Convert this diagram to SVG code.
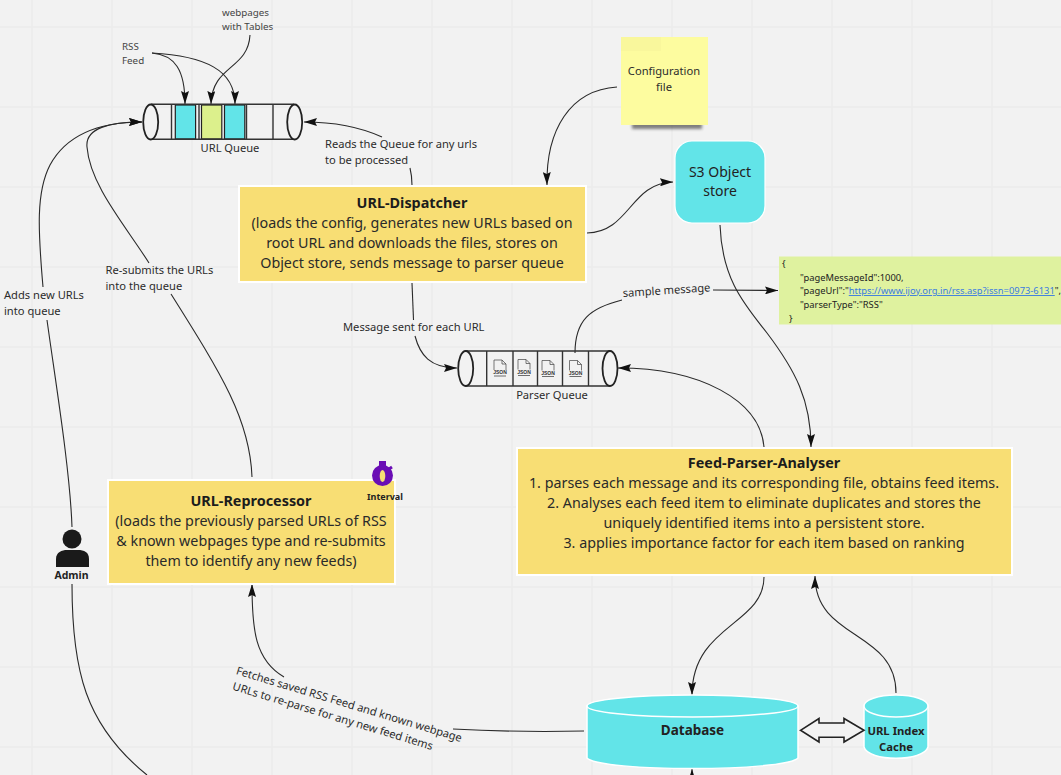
<svg xmlns="http://www.w3.org/2000/svg" width="1061" height="775" viewBox="0 0 1061 775">
<defs>
<marker id="ah" markerUnits="userSpaceOnUse" markerWidth="14" markerHeight="8" refX="13" refY="4" orient="auto"><path d="M0 0L13 4L0 8L2 4Z" fill="#111"/></marker>
<filter id="blur" x="-20%" y="-100%" width="140%" height="300%"><feGaussianBlur stdDeviation="1.800"/></filter>
<g id="json"><path d="M-6 -8H2L6 -4V2M-6 -8V2M2 -8V-4H6" fill="none" stroke="#444" stroke-width=".7"/><text x="0" y="6" text-anchor="middle" style="font:bold 5px 'Liberation Sans',sans-serif;fill:#333">JSON</text><path d="M-6 8H6" stroke="#333" stroke-width=".7"/></g>
</defs>
<style>
text{font-family:"Noto Sans","Open Sans",sans-serif;fill:#222}
.grid path{stroke:#ebebeb;stroke-width:1.5;fill:none}
.c path{fill:none;stroke:#2a2a2a;stroke-width:1.1}
.a{marker-end:url(#ah)}
.y{fill:#f8de74;stroke:#fff;stroke-width:2}
.t{font-size:14.3px;text-anchor:middle;fill:#2a2a2a}
.b{font-weight:700;fill:#1c1c1c;font-size:14.4px}
.s{font-size:11.15px;fill:#2c2c2c}
.s2{font-size:9.8px;fill:#444}
.q{fill:none;stroke:#333;stroke-width:1.4}
.cy{fill:#62e4e8;stroke:#fff;stroke-width:1.5}
</style>
<rect width="1061" height="775" fill="#f2f2f2"/>
<g class="grid"><path d="M32 0V775M112 0V775M192 0V775M272 0V775M352 0V775M432 0V775M512 0V775M592 0V775M672 0V775M752 0V775M832 0V775M912 0V775M992 0V775M0 27H1061M0 107H1061M0 187H1061M0 267H1061M0 347H1061M0 427H1061M0 507H1061M0 587H1061M0 667H1061M0 747H1061"/></g>

<g id="connectors" class="c">
<path class="a" d="M152 53C175 55 185 70 185 104"/>
<path class="a" d="M152 53C205 56 235 70 235 104"/>
<path class="a" d="M250 35C248 70 212 65 211 104"/>
<path d="M412 185C412 178 411 172 410 168"/>
<path class="a" d="M382 137C360 127 335 122 304 122"/>
<path class="a" d="M617 87C570 90 546 130 547 185"/>
<path class="a" d="M587 233C630 232 630 183 673 182"/>
<path class="a" d="M720 225C722 280 745 305 767 333C795 370 811 400 811 447"/>
<path d="M412 283L413.500 320"/>
<path class="a" d="M415 336C420 355 430 368 457 368"/>
<path d="M575 353C575 320 590 308 622 300"/>
<path class="a" d="M713 290L778 290.500"/>
<path class="a" d="M764 447C760 400 700 368 618 368"/>
<path class="a" d="M764 577C764 625 692 625 692 695"/>
<path class="a" d="M896 693C896 630 815 640 815 576"/>
<path class="a" d="M692 775L692 769"/>
<path d="M584 731C540 732 490 731 453 729"/>
<path class="a" d="M284 677C255 660 252 630 252 584"/>
<path d="M72 527C70 470 56 385 47 320"/>
<path class="a" d="M43 287C38 230 36 192 50 165C68 132 105 122 142 122"/>
<path d="M72 584C72 670 85 725 147 775"/>
<path d="M252 477C250 420 222 375 171 294"/>
<path class="a" d="M149 263C125 225 90 185 87 147C85 128 110 122 142 122"/>
</g>

<g id="url-queue">
<rect x="175.300" y="105" width="20.300" height="34" fill="#62e4e8" stroke="#222" stroke-width="1.200"/>
<rect x="201.500" y="105" width="20.300" height="34" fill="#dcf08c" stroke="#222" stroke-width="1.200"/>
<rect x="224.500" y="105" width="20.300" height="34" fill="#62e4e8" stroke="#222" stroke-width="1.200"/>
<path class="q" d="M151 104.300H294M151 139.300H294M171.500 105V139M199 105V139M246.500 105V139M273 105V139"/>
<ellipse cx="150.700" cy="122" rx="7.500" ry="17.500" fill="#f2f2f2" stroke="#222" stroke-width="1.800"/>
<ellipse cx="294.700" cy="122" rx="7.500" ry="17.500" fill="#f2f2f2" stroke="#222" stroke-width="1.800"/>
<text class="s" x="230" y="152" text-anchor="middle">URL Queue</text>
</g>
<g id="rss-feed-label"><text class="s2" x="122" y="50">RSS</text><text class="s2" x="122" y="64">Feed</text></g>
<g id="webpages-label"><text class="s2" x="222" y="16">webpages</text><text class="s2" x="222" y="30">with Tables</text></g>

<g id="config-file"><rect x="632" y="122" width="70" height="7" fill="#333" opacity=".6" filter="url(#blur)"/><rect x="621" y="37" width="87" height="88" fill="#fdfc9f"/><rect x="621" y="37" width="40" height="14" fill="#f9f79c"/>
<text class="s" x="664" y="75" text-anchor="middle">Configuration</text><text class="s" x="664" y="91" text-anchor="middle">file</text></g>

<g id="s3-store"><rect x="675" y="141" width="90" height="82" rx="17" fill="#62e4e8" stroke="#fff" stroke-width="1.200"/>
<text x="720" y="177" text-anchor="middle" font-size="14">S3 Object</text><text x="720" y="196" text-anchor="middle" font-size="14">store</text></g>

<g id="url-dispatcher"><rect class="y" x="239" y="186" width="347" height="96"/>
<text class="t b" x="412" y="208">URL-Dispatcher</text>
<text class="t" x="412" y="228">(loads the config, generates new URLs based on</text>
<text class="t" x="412" y="248">root URL and downloads the files, stores on</text>
<text class="t" x="412" y="268">Object store, sends message to parser queue</text></g>

<g id="labels">
<text class="s" x="325" y="148">Reads the Queue for any urls</text>
<text class="s" x="325" y="164">to be processed</text>
<text class="s" x="105.500" y="274">Re-submits the URLs</text>
<text class="s" x="105.500" y="290">into the queue</text>
<text class="s" x="4" y="299">Adds new URLs</text>
<text class="s" x="4" y="315">into queue</text>
<text class="s" x="343" y="331">Message sent for each URL</text>
<text class="s" x="623" y="297" transform="rotate(-3.700 623 297)">sample message</text>
<text class="s" transform="translate(235.500 674) rotate(16.800)"><tspan x="0" y="0">Fetches saved RSS Feed and known webpage</tspan><tspan x="1" y="16">URLs to re-parse for any new feed items</tspan></text>
</g>

<g id="sample-message"><rect x="779" y="256.500" width="282" height="68" fill="#dff29f"/>
<g font-size="9.350" fill="#333"><text x="782" y="267">{</text><text x="800" y="280.500">"pageMessageId":1000,</text>
<text x="800" y="294">"pageUrl":"<tspan fill="#3a7be0" text-decoration="underline">https://www.ijoy.org.in/rss.asp?issn=0973-6131</tspan>",</text>
<text x="800" y="308">"parserType":"RSS"</text><text x="789" y="322">}</text></g></g>

<g id="parser-queue">
<path class="q" d="M466 351H610M466 386H610M486.700 351V386M513 351V386M537.500 351V386M562.500 351V386M588.500 351V386"/>
<ellipse cx="465.700" cy="368.500" rx="7.500" ry="17.500" fill="#f2f2f2" stroke="#222" stroke-width="1.800"/>
<ellipse cx="610" cy="368.500" rx="7.500" ry="17.500" fill="#f2f2f2" stroke="#222" stroke-width="1.800"/>
<use href="#json" x="500" y="368"/><use href="#json" x="524" y="367.500"/><use href="#json" x="548" y="368.500"/><use href="#json" x="575.500" y="368.500"/>
<text class="s" x="552" y="398.500" text-anchor="middle">Parser Queue</text>
</g>

<g id="feed-parser"><rect class="y" x="517" y="448" width="495" height="127"/>
<text class="t b" x="764" y="468">Feed-Parser-Analyser</text>
<text class="t" x="764" y="488">1. parses each message and its corresponding file, obtains feed items.</text>
<text class="t" x="764" y="508">2. Analyses each feed item to eliminate duplicates and stores the</text>
<text class="t" x="764" y="528">uniquely identified items into a persistent store.</text>
<text class="t" x="764" y="548">3. applies importance factor for each item based on ranking</text></g>

<g id="url-reprocessor"><rect class="y" x="108" y="480" width="287" height="104"/>
<text class="t b" x="251" y="506">URL-Reprocessor</text>
<text class="t" x="251" y="526">(loads the previously parsed URLs of RSS</text>
<text class="t" x="251" y="546">&amp; known webpages type and re-submits</text>
<text class="t" x="251" y="566">them to identify any new feeds)</text></g>

<g id="interval"><circle cx="382.500" cy="475.500" r="10.500" fill="#6a0db5"/><rect x="379" y="461" width="7" height="5" fill="#6a0db5"/><ellipse cx="382.500" cy="476" rx="2.800" ry="6" fill="#f8de74"/><path d="M389 469l3 -2" stroke="#6a0db5" stroke-width="3"/>
<text x="385" y="500" text-anchor="middle" font-size="9" font-weight="700" fill="#333">Interval</text></g>

<g id="admin"><circle cx="72" cy="539" r="9.500" fill="#1a1a1a"/><path d="M56 567V559C56 552 62 550 67 550H78C84 550 89 552 89 559V567Z" fill="#1a1a1a"/>
<text x="71.500" y="579" text-anchor="middle" font-size="10.500" font-weight="700" fill="#222">Admin</text></g>

<g id="database"><path class="cy" d="M587 706V758C600 772 785 772 798 758V706Z"/><ellipse class="cy" cx="692.500" cy="706" rx="105.500" ry="11"/>
<text x="692.500" y="735" text-anchor="middle" font-size="13.500" font-weight="700">Database</text></g>

<g id="url-index-cache"><path class="cy" d="M864 706V747C868 762 924 762 928 747V706Z"/><ellipse class="cy" cx="896" cy="706" rx="32" ry="11"/>
<text x="896" y="735" text-anchor="middle" font-size="11.300" font-weight="700">URL Index</text><text x="896" y="751" text-anchor="middle" font-size="11.300" font-weight="700">Cache</text></g>

<g id="double-arrow"><path d="M800.500 730.300L819 718.500V723H844V718.500L864 730.300L844 742V737.300H819V742Z" fill="#f2f2f2" stroke="#222" stroke-width="1.600"/></g>
</svg>
